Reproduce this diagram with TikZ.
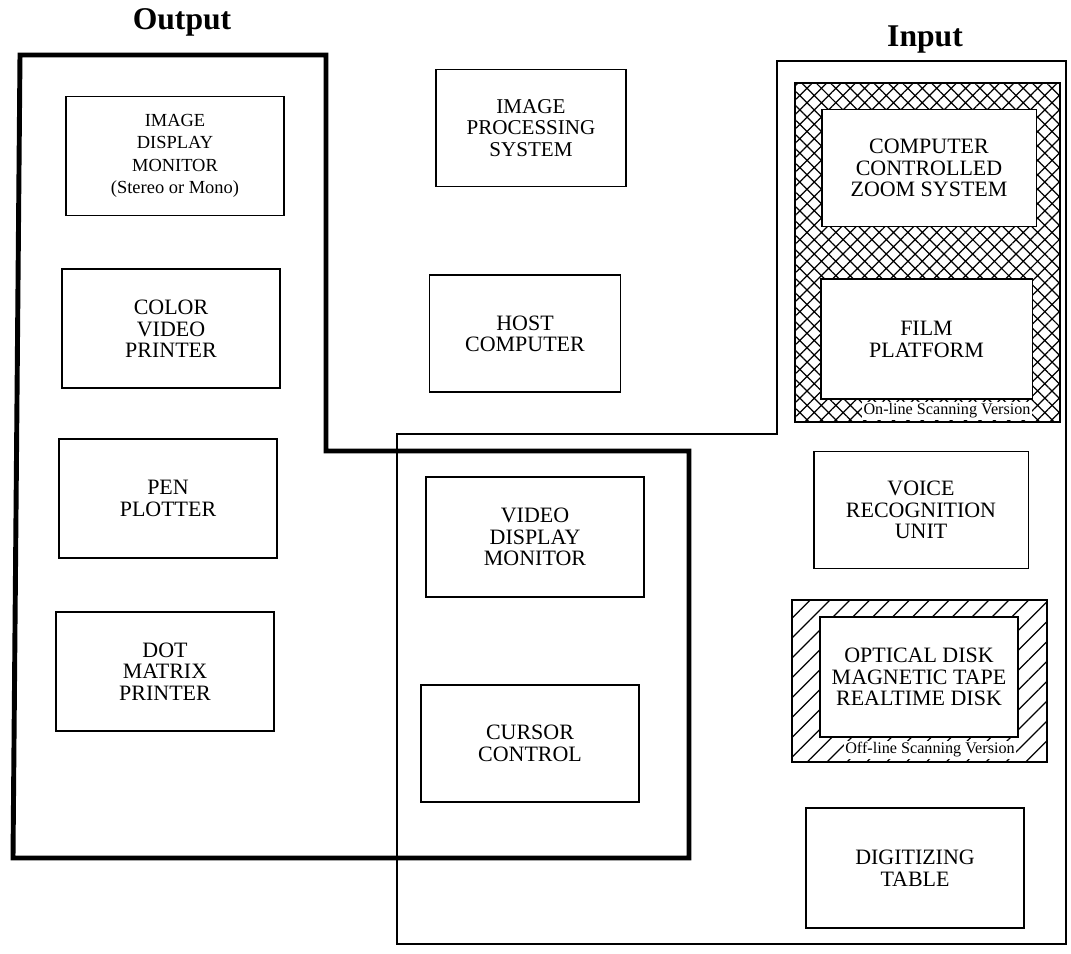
\documentclass[tikz,border=0pt]{standalone}
\usepackage{fontspec}
\setmainfont{Liberation Serif}
\usetikzlibrary{positioning,patterns.meta}
\tikzset{every picture/.style={font=\fontsize{12.5}{12.4}\selectfont}}

\begin{document}
\begin{tikzpicture}[
  x=0.02cm, y=-0.02cm,
  unit/.style={
    rectangle, draw, line width=1.1pt,
    fill=white, minimum width=4.36cm,
    minimum height=2.38cm, align=center, inner sep=2pt
  },
  grouplabel/.style={font=\fontsize{18}{18}\selectfont\bfseries},
  outregion/.style={line width=2.8pt, line join=miter},
  inregion/.style={line width=1.5pt, line join=miter},
  onscan/.style={
    rectangle, draw, line width=1.1pt, outer sep=0pt,
    pattern={Hatch[angle=45,distance=5.8pt,line width=0.7pt]}
  },
  offscan/.style={
    rectangle, draw, line width=1.1pt, outer sep=0pt,
    pattern={Lines[angle=45,distance=8pt,line width=0.7pt]}
  },
  scanlabel/.style={fill=white, inner sep=1pt, font=\fontsize{9.2}{10}\selectfont}
]
\useasboundingbox (0,0) rectangle (1071,953);

% group outlines
\draw[outregion] (20,55) -- (326,55) -- (326,451) -- (689,451)
  -- (689,858) -- (13,858) -- cycle;
\draw[inregion] (777,61) -- (1066,61) -- (1066,944) -- (397,944)
  -- (397,434) -- (777,434) -- cycle;

\node[grouplabel] (outlbl) at (182,22) {Output};
\node[grouplabel] (inlbl) at (925,40) {Input};

% output side
\node[unit, font=\fontsize{10.5}{12.7}\selectfont] (idm) at (175,156) {%
  IMAGE\\DISPLAY\\MONITOR\\(Stereo or Mono)};
\node[unit, below=1.04cm of idm, xshift=-0.08cm] (cvp) {COLOR\\VIDEO\\PRINTER};
\node[unit, below=0.98cm of cvp, xshift=-0.06cm] (pen) {PEN\\PLOTTER};
\node[unit, below=1.04cm of pen, xshift=-0.06cm] (dmp) {DOT\\MATRIX\\PRINTER};

% middle
\node[unit, minimum width=3.8cm, minimum height=2.34cm,
  font=\fontsize{12}{12.4}\selectfont] (ips) at (531,128) {IMAGE\\PROCESSING\\SYSTEM};
\node[unit, minimum width=3.82cm, minimum height=2.34cm,
  below=1.74cm of ips, xshift=-0.12cm] (host) {HOST\\COMPUTER};
\node[unit, minimum height=2.4cm] (vdm) at (535,537) {VIDEO\\DISPLAY\\MONITOR};
\node[unit, minimum height=2.34cm, below=1.72cm of vdm, xshift=-0.1cm] (cursor) {CURSOR\\CONTROL};

% input side
\node[onscan, minimum width=5.3cm, minimum height=6.78cm] (online) at (927.5,252.5) {};
\node[offscan, minimum width=5.1cm, minimum height=3.24cm] (offline) at (919.5,681) {};

\node[unit, minimum width=4.3cm, minimum height=2.34cm] (zoom) at (929,168) {%
  COMPUTER\\CONTROLLED\\ZOOM SYSTEM};
\node[unit, minimum width=4.24cm, minimum height=2.4cm,
  below=1.02cm of zoom, xshift=-0.05cm] (film) {FILM\\PLATFORM};
\node[scanlabel] (onlbl) at (947,411) {On-line Scanning Version};

\node[unit, minimum width=4.3cm, minimum height=2.34cm] (voice) at (921,510) {%
  VOICE\\RECOGNITION\\UNIT};
\node[unit, minimum width=3.96cm, minimum height=2.4cm] (disk) at (919,677) {%
  OPTICAL DISK\\MAGNETIC TAPE\\REALTIME DISK};
\node[scanlabel] (offlbl) at (930,750) {Off-line Scanning Version};

\node[unit, minimum height=2.4cm] (digit) at (915,868) {DIGITIZING\\TABLE};
\end{tikzpicture}
\end{document}
